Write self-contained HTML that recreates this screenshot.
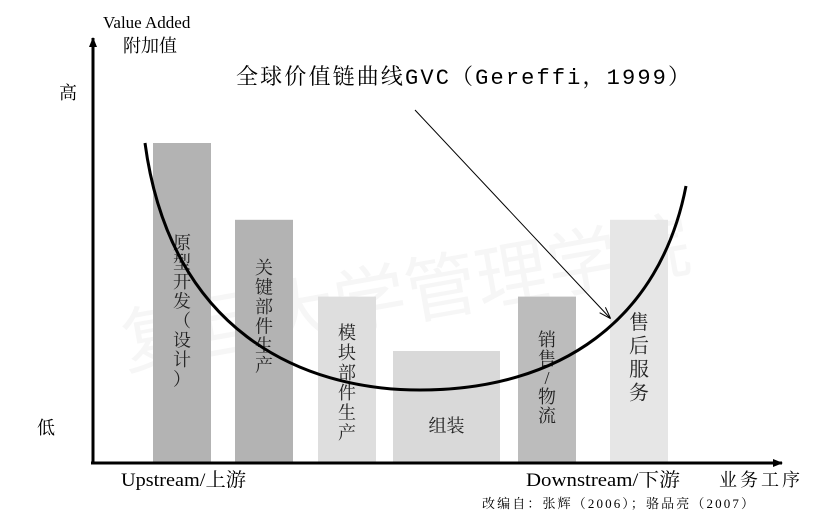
<!DOCTYPE html>
<html><head><meta charset="utf-8">
<style>
html,body{margin:0;padding:0;background:#fff;}
svg{display:block;font-family:"Liberation Serif","Noto Serif CJK SC","Noto Sans CJK SC",serif;}
</style></head>
<body>
<svg id="chart" width="819" height="516" viewBox="0 0 819 516" xmlns="http://www.w3.org/2000/svg">
<defs>
<marker id="ah" markerWidth="10" markerHeight="10" refX="9" refY="5" orient="auto" markerUnits="userSpaceOnUse"><path d="M0,1 L10,5 L0,9 z" fill="#000"/></marker>
<marker id="ah2" markerWidth="12" markerHeight="12" refX="11" refY="6" orient="auto" markerUnits="userSpaceOnUse"><path d="M0,2 L12,6 L0,10" fill="none" stroke="#000" stroke-width="1"/></marker>
</defs>
<text x="115" y="320" font-size="72" fill="#f6f6f6" transform="rotate(-10 400 280)" font-family="Noto Sans CJK SC,sans-serif">复旦大学管理学院</text>
<g id="bars"></g>
<path d="M145,143 C170,330 300,390 420,390 C560,390 660,320 686,186" fill="none" stroke="#000" stroke-width="3"/>
<line x1="93" y1="463" x2="93" y2="38" stroke="#000" stroke-width="3" marker-end="url(#ah)"/>
<line x1="91" y1="463" x2="782" y2="463" stroke="#000" stroke-width="3" marker-end="url(#ah)"/>
<line x1="415" y1="110" x2="610" y2="318" stroke="#000" stroke-width="1" marker-end="url(#ah2)"/>
<text x="103" y="28" font-size="17">Value Added</text>
<text x="123" y="52" font-size="18">附加值</text>
<text x="59" y="99" font-size="18">高</text>
<text x="37" y="434" font-size="18">低</text>
<text x="236" y="84" font-size="22" textLength="454" lengthAdjust="spacing" font-family="Liberation Mono,Noto Serif CJK SC,monospace">全球价值链曲线GVC（Gereffi，1999）</text>
<text x="121" y="486" font-size="19" textLength="125" lengthAdjust="spacingAndGlyphs">Upstream/上游</text>
<text x="526" y="486" font-size="19" textLength="154" lengthAdjust="spacingAndGlyphs">Downstream/下游</text>
<text x="719" y="486" font-size="18" textLength="81" lengthAdjust="spacing">业务工序</text>
<text x="482" y="508" font-size="13" textLength="272" lengthAdjust="spacing">改编自：张辉（2006）；骆品亮（2007）</text>
</svg>
<script>
const categories = ["原型开发（设计）","关键部件生产","模块部件生产","组装","销售/物流","售后服务"];
const values = [10, 7.6, 5.2, 3.5, 5.2, 7.6];
const colors = ["#b3b3b3","#b3b3b3","#dedede","#d9d9d9","#bcbcbc","#e6e6e6"];
const barX = [153,235,318,393,518,610];
const barW = [58,58,58,107,58,58];
const textStart = [233,258,323,0,330,313];
const textStep = [19.5,19.5,20,0,19,23.5];
const yBase = 463, yUnit = 32;
function yScale(v){ return yBase - v*yUnit; }
const g = document.getElementById('bars');
const NS = "http://www.w3.org/2000/svg";
categories.forEach((c,i)=>{
  const r = document.createElementNS(NS,'rect');
  
  
  const top = yScale(values[i]);
  r.setAttribute('x', barX[i]); r.setAttribute('y', top);
  r.setAttribute('width', barW[i]); r.setAttribute('height', yBase-top);
  r.setAttribute('fill', colors[i]);
  g.appendChild(r);
  const cx = barX[i] + barW[i]/2;
  const t = document.createElementNS(NS,'text');
  
  
  t.setAttribute('font-size', i===5 ? '20' : '18');
  t.setAttribute('text-anchor','middle');
  t.setAttribute('fill','#222');
  if (i===3) {
    t.setAttribute('x', cx); t.setAttribute('y', 432);
    t.textContent = c;
  } else {
    [...c].forEach((ch,k)=>{
      const s = document.createElementNS(NS,'tspan');
      s.setAttribute('x', cx);
      s.setAttribute('y', textStart[i] + 16 + k*textStep[i]);
      s.textContent = ch;
      t.appendChild(s);
    });
  }
  g.appendChild(t);
});
</script>
</body></html>
